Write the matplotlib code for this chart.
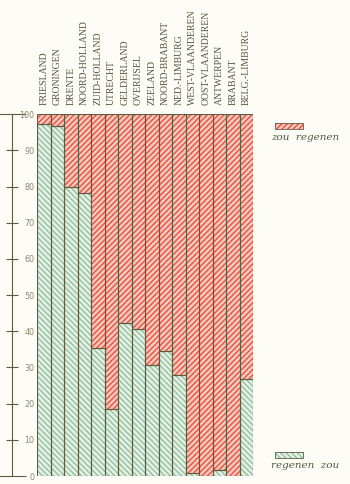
import numpy as np
import matplotlib
matplotlib.use('Agg')
import matplotlib.pyplot as plt
import matplotlib.patches as mpatches

# provinces, left to right
provinces = ['FRIESLAND', 'GRONINGEN', 'DRENTE', 'NOORD-HOLLAND', 'ZUID-HOLLAND',
             'UTRECHT', 'GELDERLAND', 'OVERIJSEL', 'ZEELAND', 'NOORD-BRABANT',
             'NED.-LIMBURG', 'WEST-VLAANDEREN', 'OOST-VLAANDEREN', 'ANTWERPEN',
             'BRABANT', 'BELG.-LIMBURG']
# percentage saying "regenen zou" (rest is "zou regenen")
regenen_zou = [97.2, 96.7, 79.8, 78.2, 35.5, 18.4, 42.2, 40.7, 30.6, 34.5,
               27.8, 0.9, 0.0, 1.6, 0.0, 26.7]
zou_regenen = [100 - v for v in regenen_zou]

bg = '#fdfcf6'
red_face, red_hatch = '#f8c6ba', '#e64a38'
green_face, green_hatch = '#e4f0e3', '#8cbd9c'
edge = '#5d5c40'
txt = '#56553f'

plt.rcParams['hatch.linewidth'] = 0.9
W, H = 350, 484
fig = plt.figure(figsize=(W / 100, H / 100), dpi=100, facecolor=bg)

x0, x1 = 37.3, 253
y_top, y_bot = 114.3, 476
ax = fig.add_axes([x0 / W, 1 - y_bot / H, (x1 - x0) / W, (y_bot - y_top) / H])
ax.set_facecolor('none')

x = np.arange(len(provinces))
# hatched fill first, then dark outlines on top
ax.bar(x, regenen_zou, width=1.0, color=green_face, hatch='\\\\\\\\\\\\',
       edgecolor=green_hatch, linewidth=0)
ax.bar(x, zou_regenen, bottom=regenen_zou, width=1.0, color=red_face,
       hatch='//////', edgecolor=red_hatch, linewidth=0)
ax.bar(x, regenen_zou, width=1.0, color='none', edgecolor=edge, linewidth=0.8)
ax.bar(x, zou_regenen, bottom=regenen_zou, width=1.0, color='none',
       edgecolor=edge, linewidth=0.8)

ax.set_xlim(-0.5, len(provinces) - 0.5)
ax.set_ylim(0, 100)
for s in ax.spines.values():
    s.set_visible(False)
ax.set_xticks([])
ax.set_yticks([])

for i, name in enumerate(provinces):
    ax.annotate(name, xy=(i, 100), xytext=(0, 7), textcoords='offset points',
                rotation=90, ha='center', va='bottom', fontsize=7,
                family='Liberation Serif', color=txt)

# separate scale bar to the left
sc = fig.add_axes([12 / W, 1 - y_bot / H, 0.0001, (y_bot - y_top) / H])
sc.set_facecolor('none')
sc.set_ylim(0, 100)
sc.set_xticks([])
for k in ['left', 'top', 'bottom']:
    sc.spines[k].set_visible(False)
sc.spines['right'].set_color(edge)
sc.spines['right'].set_linewidth(0.8)
sc.yaxis.tick_right()
sc.set_yticks([0, 100])
sc.set_yticks(range(10, 100, 10), minor=True)
sc.set_yticklabels(['0', '100'])
sc.set_yticklabels([str(v) for v in range(10, 100, 10)], minor=True)
sc.tick_params(axis='y', which='major', direction='inout', length=20, width=0.8,
               color=edge, pad=6, labelsize=5.8, labelcolor='#8a8970')
sc.tick_params(axis='y', which='minor', direction='inout', length=8, width=0.8,
               color=edge, pad=12, labelsize=5.8, labelcolor='#8a8970')
for t in sc.get_yticklabels(which='both'):
    t.set_horizontalalignment('right')

# legend boxes
def key(px, py, face, hcol, hatch, label, ty):
    r = mpatches.Rectangle((px / W, 1 - (py + 6) / H), 28 / W, 6 / H,
                           transform=fig.transFigure, facecolor=face,
                           edgecolor=hcol, hatch=hatch, linewidth=0)
    fig.add_artist(r)
    o = mpatches.Rectangle((px / W, 1 - (py + 6) / H), 28 / W, 6 / H,
                           transform=fig.transFigure, facecolor='none',
                           edgecolor=edge, linewidth=0.6)
    fig.add_artist(o)
    fig.text(305 / W, 1 - ty / H, label, ha='center', va='center',
             fontsize=7.5, style='italic', family='DejaVu Serif', color=txt)

key(275, 122.5, red_face, red_hatch, '//////', 'zou  regenen', 137)
key(275, 452, green_face, green_hatch, '\\\\\\\\\\\\', 'regenen  zou', 466)

fig.savefig('out.png', dpi=100, facecolor=bg)
